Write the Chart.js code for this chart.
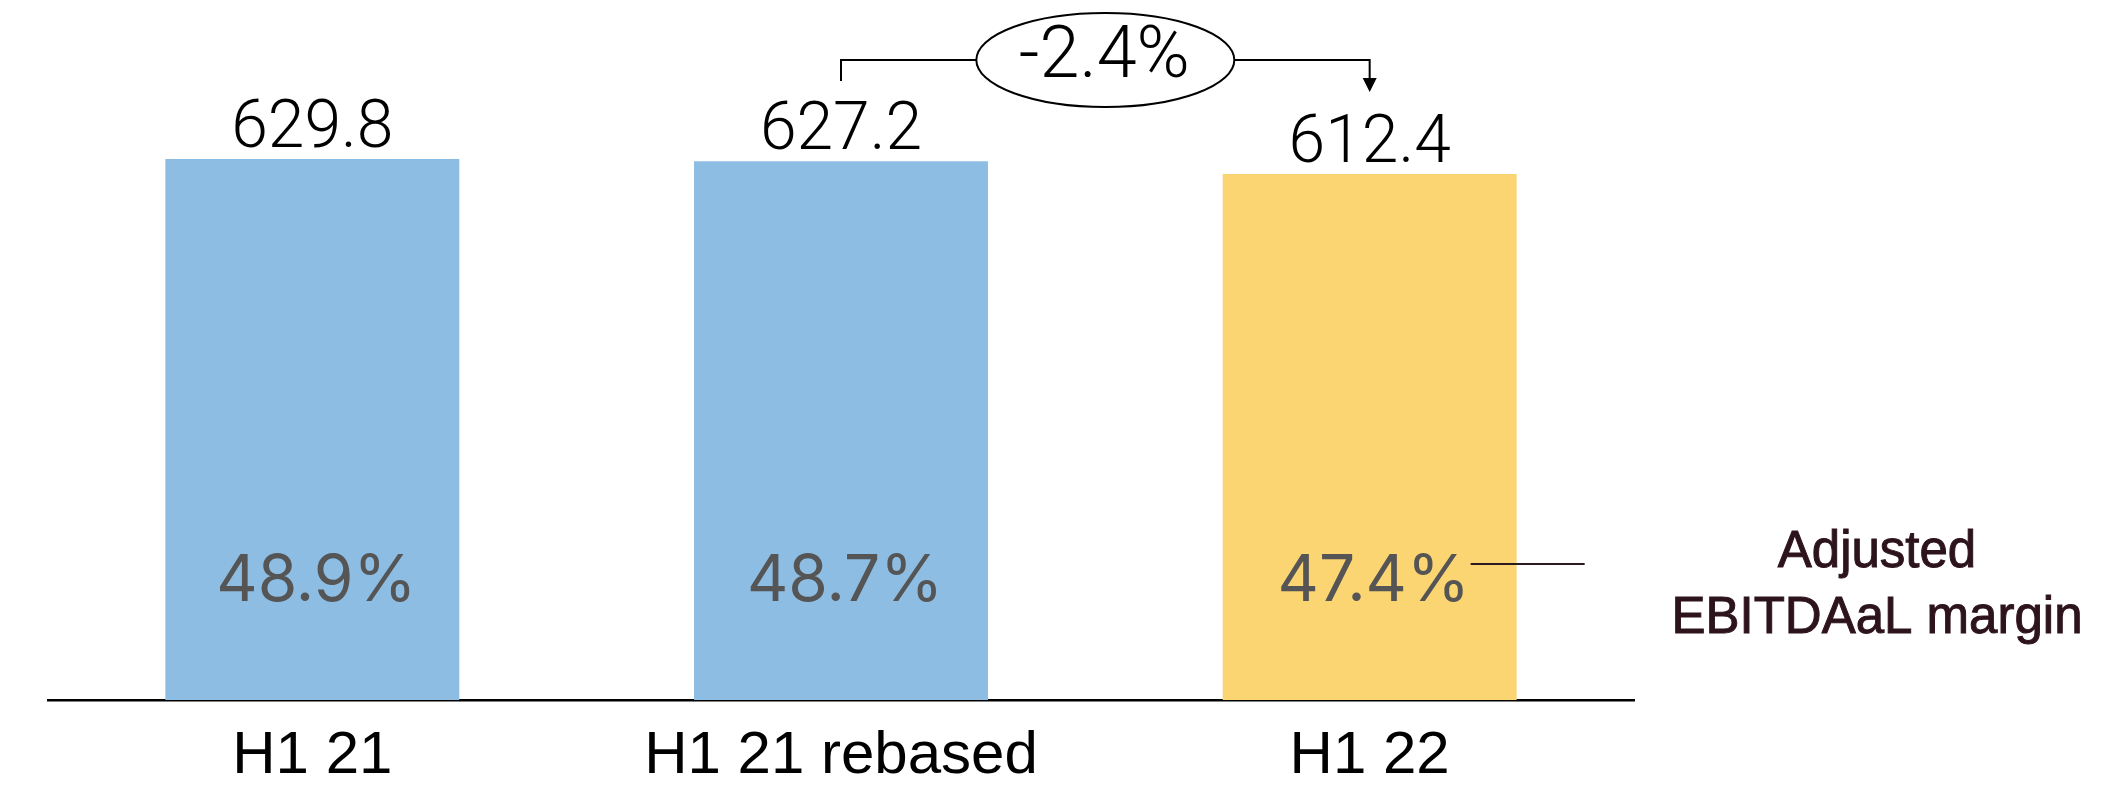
<!DOCTYPE html>
<html>
<head>
<meta charset="utf-8">
<script src="https://cdn.jsdelivr.net/npm/chart.js@4"></script>
<style>
  html, body { margin: 0; padding: 0; background: #fff; }
  #wrap { width: 2111px; height: 790px; }
</style>
</head>
<body>
<div id="wrap"><canvas id="c" width="2111" height="790"></canvas></div>
<script>
// Revenue per period (€m) and adjusted EBITDAaL margin (%)
const categories = ['H1 21', 'H1 21 rebased', 'H1 22'];
const revenue = [629.8, 627.2, 612.4];
const marginPct = [48.9, 48.7, 47.4];
const barColors = ['#8dbde3', '#8dbde3', '#fcd573'];
const marginCaption = ['Adjusted', 'EBITDAaL margin'];

// Value on top of each bar, margin inside each bar, growth bracket and side caption
const overlay = {
  id: 'overlay',
  afterDatasetsDraw(chart) {
    const { ctx, chartArea } = chart;
    const bars = chart.getDatasetMeta(0).data;
    ctx.save();
    ctx.textAlign = 'center';
    ctx.textBaseline = 'middle';

    bars.forEach((bar, i) => {
      ctx.fillStyle = '#000';
      ctx.font = '300 66px Roboto';
      ctx.fillText(revenue[i].toFixed(1), bar.x, bar.y - 29);
      ctx.fillStyle = '#555555';
      ctx.font = '400 64px Inter';
      ctx.fillText(marginPct[i].toFixed(1) + '%', bar.x + 4, chartArea.bottom - 118);
    });

    // growth bracket from the rebased bar to the latest bar
    const x1 = bars[1].x, x2 = bars[2].x;
    const cx = (x1 + x2) / 2, cy = chartArea.top + 60;
    const rx = 129, ry = 47;
    ctx.strokeStyle = '#000';
    ctx.lineWidth = 2;
    ctx.beginPath();
    ctx.moveTo(x1, cy + 21);
    ctx.lineTo(x1, cy);
    ctx.lineTo(cx - rx, cy);
    ctx.moveTo(cx + rx, cy);
    ctx.lineTo(x2, cy);
    ctx.lineTo(x2, cy + 20);
    ctx.stroke();
    ctx.beginPath();
    ctx.moveTo(x2 - 7, cy + 18);
    ctx.lineTo(x2 + 7, cy + 18);
    ctx.lineTo(x2, cy + 32);
    ctx.closePath();
    ctx.fillStyle = '#000';
    ctx.fill();
    ctx.beginPath();
    ctx.ellipse(cx, cy, rx, ry, 0, 0, Math.PI * 2);
    ctx.stroke();
    const growth = (revenue[2] / revenue[1] - 1) * 100;
    ctx.font = '300 72px Roboto';
    ctx.fillText(growth.toFixed(1) + '%', cx - 1, cy - 1);

    // caption for the margin figures
    const my = chartArea.bottom - 136;
    ctx.strokeStyle = '#2d1a20';
    ctx.lineWidth = 2;
    ctx.beginPath();
    ctx.moveTo(x2 + 101, my);
    ctx.lineTo(x2 + 215, my);
    ctx.stroke();
    ctx.fillStyle = '#2d141c';
    ctx.strokeStyle = '#2d141c';
    ctx.lineWidth = 1;
    ctx.font = '400 51px "Liberation Sans"';
    ctx.fillText(marginCaption[0], 1877, my - 11);
    ctx.strokeText(marginCaption[0], 1877, my - 11);
    ctx.fillText(marginCaption[1], 1877, my + 55);
    ctx.strokeText(marginCaption[1], 1877, my + 55);
    ctx.restore();
  }
};

function build() {
  new Chart(document.getElementById('c'), {
    type: 'bar',
    data: {
      labels: categories,
      datasets: [{
        data: revenue,
        backgroundColor: barColors,
        borderWidth: 0,
        categoryPercentage: 1,
        barPercentage: 0.556
      }]
    },
    options: {
      responsive: false,
      animation: false,
      layout: { padding: { left: 48, right: 477, top: 0, bottom: 0 } },
      plugins: { legend: { display: false }, tooltip: { enabled: false } },
      scales: {
        x: {
          grid: { display: false, drawTicks: false },
          border: { display: true, color: '#000', width: 2.5 },
          ticks: { color: '#000', padding: 20, font: { family: '"Liberation Sans"', size: 60 } },
          afterFit: s => { s.height = 90; }
        },
        y: { display: false, min: 0, max: 815 }
      }
    },
    plugins: [overlay]
  });
}

Promise.all([
  document.fonts.load('300 66px Roboto'),
  document.fonts.load('400 64px Inter'),
  document.fonts.load('400 60px "Liberation Sans"')
]).then(build, build);
</script>
</body>
</html>
